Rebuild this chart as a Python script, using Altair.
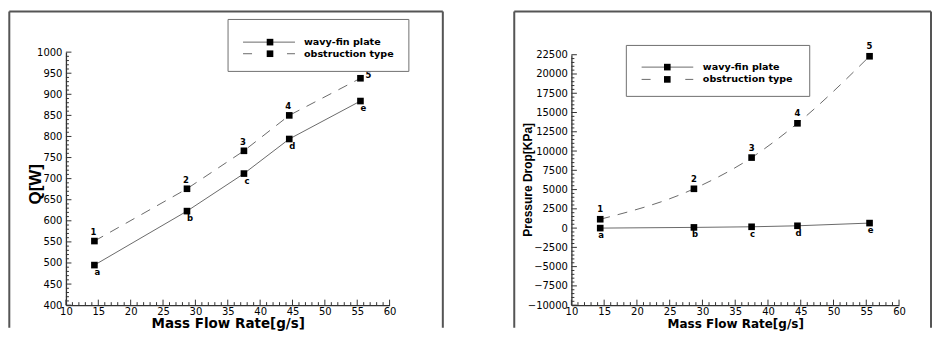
import altair as alt
import pandas as pd

# ---- data ----
flow = [14.4, 28.7, 37.5, 44.5, 55.5]
q_wavy = [495, 623, 712, 794, 884]
q_obs = [552, 676, 766, 850, 938]
dp_wavy = [0, 90, 170, 300, 650]
dp_obs = [1150, 5100, 9150, 13600, 22300]
num_labels = ["1", "2", "3", "4", "5"]
let_labels = ["a", "b", "c", "d", "e"]
series_names = ["wavy-fin plate", "obstruction type"]
x_title = "Mass Flow Rate[g/s]"
x_ticks = list(range(10, 61, 5))
x_minor = [v for v in range(10, 61) if v % 5]
q_ticks = list(range(400, 1001, 50))
q_minor = [v for v in range(400, 1001, 10) if v % 50]
dp_ticks = list(range(-10000, 22501, 2500))
dp_minor = [v for v in range(-10000, 22501, 500) if v % 2500]

FONT = "Liberation Sans"
WIDE = "DejaVu Sans"
LINE_COLOR = "#6a6a6a"
AX_COLOR = "#333333"
FRAME_COLOR = "#555555"
one = pd.DataFrame({"d": [0]})
H = 253.3


def panel(y_w, y_o, y_ticks, y_minor, y_domain, y_top, y_title, y_title_size,
          W, frame, legend, ytitle_pos, xtitle_size, obs_interp,
          num_dy, let_dx, let_dy, special5):
    xs = alt.Scale(domain=[10, 60], nice=False, zero=False)
    ys = alt.Scale(domain=y_domain, nice=False, zero=False, range=[H, y_top])
    xaxis = alt.Axis(values=x_ticks, format="d", grid=False, ticks=False, tickSize=0,
                     labelFont=WIDE, labelFontSize=10, labelColor="black", labelPadding=1,
                     labelFlush=False, labelOverlap=False,
                     domainColor=AX_COLOR, domainWidth=1.3,
                     title=x_title, titleFont=WIDE, titleFontSize=xtitle_size,
                     titleFontWeight="bold", titleColor="black",
                     titleX=W / 2, titleY=22.6, titleAlign="center", titleBaseline="alphabetic")
    yaxis = alt.Axis(values=y_ticks, format="d", grid=False, ticks=False, tickSize=0,
                     labelFont=WIDE, labelFontSize=10, labelColor="black", labelPadding=4,
                     labelFlush=False, labelOverlap=False,
                     domainColor=AX_COLOR, domainWidth=1.3,
                     title=y_title, titleFont=FONT, titleFontSize=y_title_size,
                     titleFontWeight="bold", titleColor="black", titleAngle=270,
                     titleX=ytitle_pos[0], titleY=ytitle_pos[1],
                     titleAlign="center", titleBaseline="middle")
    X = alt.X("x:Q", scale=xs, axis=xaxis)
    Y = alt.Y("y:Q", scale=ys, axis=yaxis)

    df_w = pd.DataFrame({"x": flow, "y": y_w, "lab": let_labels})
    df_o = pd.DataFrame({"x": flow, "y": y_o, "lab": num_labels})
    fl, fr, ft, fb = frame

    layers = []
    # frame around the figure
    layers.append(alt.Chart(one).mark_rule(color=FRAME_COLOR, strokeWidth=2).encode(
        x=alt.value(fl), x2=alt.value(fr), y=alt.value(ft)))
    layers.append(alt.Chart(one).mark_rule(color=FRAME_COLOR, strokeWidth=2).encode(
        x=alt.value(fl), y=alt.value(ft), y2=alt.value(fb)))
    if fr < W + 100:
        layers.append(alt.Chart(one).mark_rule(color=FRAME_COLOR, strokeWidth=2).encode(
            x=alt.value(fr), y=alt.value(ft), y2=alt.value(fb)))

    layers.append(alt.Chart(df_w).mark_line(color=LINE_COLOR, strokeWidth=1).encode(x=X, y=Y))
    layers.append(alt.Chart(df_o).mark_line(color=LINE_COLOR, strokeWidth=1,
                                            strokeDash=[10, 8], interpolate=obs_interp).encode(x=X, y=Y))

    # inward ticks
    def xt(vals, ln):
        return alt.Chart(pd.DataFrame({"x": vals})).mark_rule(color=AX_COLOR, strokeWidth=1).encode(
            x=X, y=alt.value(H), y2=alt.value(H - ln))

    def yt(vals, ln):
        return alt.Chart(pd.DataFrame({"y": vals})).mark_rule(color=AX_COLOR, strokeWidth=1).encode(
            y=Y, x=alt.value(0), x2=alt.value(ln))

    layers += [xt(x_ticks, 5.5), xt(x_minor, 3), yt(y_ticks, 5.5), yt(y_minor, 3)]

    for d in (df_w, df_o):
        layers.append(alt.Chart(d).mark_square(size=44, color="black", opacity=1).encode(x=X, y=Y))

    txt = dict(font=WIDE, fontSize=8.5, fontWeight="bold", color="black",
               align="center", baseline="middle")
    layers.append(alt.Chart(df_w).mark_text(dx=let_dx, dy=let_dy, **txt).encode(
        x=X, y=Y, text="lab:N"))
    if special5:
        layers.append(alt.Chart(df_o).transform_filter(alt.datum.lab != "5").mark_text(
            dx=-1, dy=num_dy, **txt).encode(x=X, y=Y, text="lab:N"))
        layers.append(alt.Chart(df_o).transform_filter(alt.datum.lab == "5").mark_text(
            dx=8, dy=-3, **txt).encode(x=X, y=Y, text="lab:N"))
    else:
        layers.append(alt.Chart(df_o).mark_text(dy=num_dy, **txt).encode(x=X, y=Y, text="lab:N"))

    # hand-drawn legend box
    bx1, bx2, by1, by2, r1, r2, lx1, lx2, mx, tx = legend
    layers.append(alt.Chart(one).mark_rect(fill="white", stroke="#6f6f6f", strokeWidth=1).encode(
        x=alt.value(bx1), x2=alt.value(bx2), y=alt.value(by1), y2=alt.value(by2)))
    layers.append(alt.Chart(one).mark_rule(color=LINE_COLOR, strokeWidth=1).encode(
        x=alt.value(lx1), x2=alt.value(lx2), y=alt.value(r1)))
    layers.append(alt.Chart(one).mark_rule(color=LINE_COLOR, strokeWidth=1,
                                           strokeDash=[9, lx2 - lx1 - 17]).encode(
        x=alt.value(lx1), x2=alt.value(lx2), y=alt.value(r2)))
    for r in (r1, r2):
        layers.append(alt.Chart(one).mark_square(size=44, color="black", opacity=1).encode(
            x=alt.value(mx), y=alt.value(r)))
    for r, name in zip((r1, r2), series_names):
        layers.append(alt.Chart(one).mark_text(font=WIDE, fontSize=9.6, fontWeight="bold",
                                               color="black", align="left", baseline="middle").encode(
            x=alt.value(tx), y=alt.value(r), text=alt.value(name)))

    return alt.layer(*layers).properties(width=W, height=H)


left = panel(q_wavy, q_obs, q_ticks, q_minor, [400, 1000], 0, "Q[W]", 17,
             324,
             frame=(-56.7, 377.3, -40.7, 276),
             legend=(162.3, 343.3, -32.7, 19.3, -10, 1.6, 177.3, 229.3, 204.3, 238.3),
             ytitle_pos=(-30.7, 131.8), xtitle_size=13.5, obs_interp="linear",
             num_dy=-9, let_dx=3, let_dy=7, special5=True)

right = panel(dp_wavy, dp_obs, dp_ticks, dp_minor, [-10000, 22500], 2.6, "Pressure Drop[KPa]", 12,
              328,
              frame=(-57.2, 360, -40.7, 276),
              legend=(55, 238.6, -6.7, 44.3, 15, 27.3, 70.3, 122, 96, 131.6),
              ytitle_pos=(-44, 127.3), xtitle_size=12, obs_interp="monotone",
              num_dy=-10, let_dx=1, let_dy=7, special5=False)

chart = alt.hconcat(left, right, spacing=68).properties(
    padding={"left": 0, "top": 2, "right": 0, "bottom": 0}
).configure_view(strokeWidth=0)

chart.save("out.html", embed_options={"renderer": "svg", "actions": False})
